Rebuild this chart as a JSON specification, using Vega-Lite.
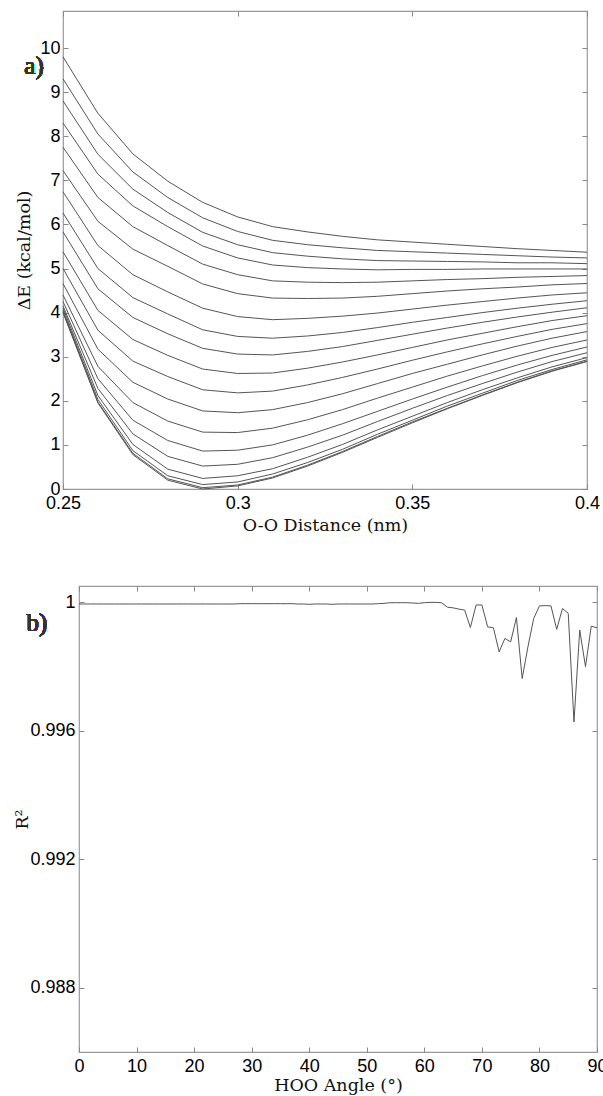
{
  "$schema": "https://vega.github.io/schema/vega-lite/v6.json",
  "padding": {"left": 13, "top": 9, "right": 0, "bottom": 0},
  "bounds": "flush",
  "spacing": 97,
  "config": {
    "view": {"stroke": "#999", "strokeWidth": 1.2},
    "axis": {
      "grid": false, "domain": false, "tickSize": -5, "tickColor": "#888", "tickWidth": 1,
      "labelFont": "Liberation Sans", "labelFontSize": 18, "labelColor": "#000",
      "titleFont": "DejaVu Serif", "titleFontSize": 17.5, "titleFontWeight": "normal", "titleColor": "#111",
      "labelFlush": false, "labelOverlap": false, "labelBound": false
    }
  },
  "datasets": {
    "energy": [
      {"curve":0,"r":0.25,"E":9.8},{"curve":0,"r":0.26,"E":8.52},{"curve":0,"r":0.27,"E":7.6},{"curve":0,"r":0.28,"E":6.98},{"curve":0,"r":0.29,"E":6.5},{"curve":0,"r":0.30,"E":6.17},{"curve":0,"r":0.31,"E":5.95},{"curve":0,"r":0.32,"E":5.83},{"curve":0,"r":0.33,"E":5.73},{"curve":0,"r":0.34,"E":5.65},{"curve":0,"r":0.35,"E":5.6},{"curve":0,"r":0.36,"E":5.55},{"curve":0,"r":0.37,"E":5.5},{"curve":0,"r":0.38,"E":5.45},{"curve":0,"r":0.39,"E":5.41},{"curve":0,"r":0.40,"E":5.37},
      {"curve":1,"r":0.25,"E":9.3},{"curve":1,"r":0.26,"E":8.05},{"curve":1,"r":0.27,"E":7.19},{"curve":1,"r":0.28,"E":6.61},{"curve":1,"r":0.29,"E":6.15},{"curve":1,"r":0.30,"E":5.84},{"curve":1,"r":0.31,"E":5.64},{"curve":1,"r":0.32,"E":5.54},{"curve":1,"r":0.33,"E":5.47},{"curve":1,"r":0.34,"E":5.41},{"curve":1,"r":0.35,"E":5.38},{"curve":1,"r":0.36,"E":5.35},{"curve":1,"r":0.37,"E":5.32},{"curve":1,"r":0.38,"E":5.29},{"curve":1,"r":0.39,"E":5.26},{"curve":1,"r":0.40,"E":5.24},
      {"curve":2,"r":0.25,"E":8.8},{"curve":2,"r":0.26,"E":7.59},{"curve":2,"r":0.27,"E":6.8},{"curve":2,"r":0.28,"E":6.27},{"curve":2,"r":0.29,"E":5.82},{"curve":2,"r":0.30,"E":5.54},{"curve":2,"r":0.31,"E":5.36},{"curve":2,"r":0.32,"E":5.28},{"curve":2,"r":0.33,"E":5.22},{"curve":2,"r":0.34,"E":5.18},{"curve":2,"r":0.35,"E":5.17},{"curve":2,"r":0.36,"E":5.16},{"curve":2,"r":0.37,"E":5.15},{"curve":2,"r":0.38,"E":5.13},{"curve":2,"r":0.39,"E":5.13},{"curve":2,"r":0.40,"E":5.11},
      {"curve":3,"r":0.25,"E":8.3},{"curve":3,"r":0.26,"E":7.14},{"curve":3,"r":0.27,"E":6.42},{"curve":3,"r":0.28,"E":5.95},{"curve":3,"r":0.29,"E":5.51},{"curve":3,"r":0.30,"E":5.24},{"curve":3,"r":0.31,"E":5.08},{"curve":3,"r":0.32,"E":5.02},{"curve":3,"r":0.33,"E":4.99},{"curve":3,"r":0.34,"E":4.97},{"curve":3,"r":0.35,"E":4.98},{"curve":3,"r":0.36,"E":4.98},{"curve":3,"r":0.37,"E":4.99},{"curve":3,"r":0.38,"E":4.99},{"curve":3,"r":0.39,"E":4.99},{"curve":3,"r":0.40,"E":4.99},
      {"curve":4,"r":0.25,"E":7.75},{"curve":4,"r":0.26,"E":6.61},{"curve":4,"r":0.27,"E":5.95},{"curve":4,"r":0.28,"E":5.52},{"curve":4,"r":0.29,"E":5.1},{"curve":4,"r":0.30,"E":4.86},{"curve":4,"r":0.31,"E":4.72},{"curve":4,"r":0.32,"E":4.69},{"curve":4,"r":0.33,"E":4.68},{"curve":4,"r":0.34,"E":4.69},{"curve":4,"r":0.35,"E":4.72},{"curve":4,"r":0.36,"E":4.75},{"curve":4,"r":0.37,"E":4.77},{"curve":4,"r":0.38,"E":4.8},{"curve":4,"r":0.39,"E":4.82},{"curve":4,"r":0.40,"E":4.84},
      {"curve":5,"r":0.25,"E":7.22},{"curve":5,"r":0.26,"E":6.07},{"curve":5,"r":0.27,"E":5.44},{"curve":5,"r":0.28,"E":5.05},{"curve":5,"r":0.29,"E":4.65},{"curve":5,"r":0.30,"E":4.43},{"curve":5,"r":0.31,"E":4.33},{"curve":5,"r":0.32,"E":4.32},{"curve":5,"r":0.33,"E":4.33},{"curve":5,"r":0.34,"E":4.37},{"curve":5,"r":0.35,"E":4.43},{"curve":5,"r":0.36,"E":4.49},{"curve":5,"r":0.37,"E":4.54},{"curve":5,"r":0.38,"E":4.58},{"curve":5,"r":0.39,"E":4.63},{"curve":5,"r":0.40,"E":4.66},
      {"curve":6,"r":0.25,"E":6.74},{"curve":6,"r":0.26,"E":5.52},{"curve":6,"r":0.27,"E":4.86},{"curve":6,"r":0.28,"E":4.47},{"curve":6,"r":0.29,"E":4.1},{"curve":6,"r":0.30,"E":3.91},{"curve":6,"r":0.31,"E":3.84},{"curve":6,"r":0.32,"E":3.87},{"curve":6,"r":0.33,"E":3.92},{"curve":6,"r":0.34,"E":3.99},{"curve":6,"r":0.35,"E":4.08},{"curve":6,"r":0.36,"E":4.17},{"curve":6,"r":0.37,"E":4.25},{"curve":6,"r":0.38,"E":4.33},{"curve":6,"r":0.39,"E":4.4},{"curve":6,"r":0.40,"E":4.45},
      {"curve":7,"r":0.25,"E":6.26},{"curve":7,"r":0.26,"E":5.0},{"curve":7,"r":0.27,"E":4.34},{"curve":7,"r":0.28,"E":3.97},{"curve":7,"r":0.29,"E":3.61},{"curve":7,"r":0.30,"E":3.46},{"curve":7,"r":0.31,"E":3.42},{"curve":7,"r":0.32,"E":3.47},{"curve":7,"r":0.33,"E":3.55},{"curve":7,"r":0.34,"E":3.66},{"curve":7,"r":0.35,"E":3.78},{"curve":7,"r":0.36,"E":3.89},{"curve":7,"r":0.37,"E":4.0},{"curve":7,"r":0.38,"E":4.1},{"curve":7,"r":0.39,"E":4.19},{"curve":7,"r":0.40,"E":4.27},
      {"curve":8,"r":0.25,"E":5.83},{"curve":8,"r":0.26,"E":4.54},{"curve":8,"r":0.27,"E":3.89},{"curve":8,"r":0.28,"E":3.52},{"curve":8,"r":0.29,"E":3.19},{"curve":8,"r":0.30,"E":3.06},{"curve":8,"r":0.31,"E":3.04},{"curve":8,"r":0.32,"E":3.12},{"curve":8,"r":0.33,"E":3.23},{"curve":8,"r":0.34,"E":3.37},{"curve":8,"r":0.35,"E":3.51},{"curve":8,"r":0.36,"E":3.65},{"curve":8,"r":0.37,"E":3.78},{"curve":8,"r":0.38,"E":3.9},{"curve":8,"r":0.39,"E":4.01},{"curve":8,"r":0.40,"E":4.11},
      {"curve":9,"r":0.25,"E":5.38},{"curve":9,"r":0.26,"E":4.05},{"curve":9,"r":0.27,"E":3.39},{"curve":9,"r":0.28,"E":3.03},{"curve":9,"r":0.29,"E":2.72},{"curve":9,"r":0.30,"E":2.62},{"curve":9,"r":0.31,"E":2.63},{"curve":9,"r":0.32,"E":2.74},{"curve":9,"r":0.33,"E":2.88},{"curve":9,"r":0.34,"E":3.04},{"curve":9,"r":0.35,"E":3.21},{"curve":9,"r":0.36,"E":3.38},{"curve":9,"r":0.37,"E":3.53},{"curve":9,"r":0.38,"E":3.68},{"curve":9,"r":0.39,"E":3.82},{"curve":9,"r":0.40,"E":3.93},
      {"curve":10,"r":0.25,"E":5.0},{"curve":10,"r":0.26,"E":3.6},{"curve":10,"r":0.27,"E":2.9},{"curve":10,"r":0.28,"E":2.55},{"curve":10,"r":0.29,"E":2.25},{"curve":10,"r":0.30,"E":2.18},{"curve":10,"r":0.31,"E":2.22},{"curve":10,"r":0.32,"E":2.36},{"curve":10,"r":0.33,"E":2.53},{"curve":10,"r":0.34,"E":2.72},{"curve":10,"r":0.35,"E":2.92},{"curve":10,"r":0.36,"E":3.11},{"curve":10,"r":0.37,"E":3.29},{"curve":10,"r":0.38,"E":3.46},{"curve":10,"r":0.39,"E":3.62},{"curve":10,"r":0.40,"E":3.75},
      {"curve":11,"r":0.25,"E":4.66},{"curve":11,"r":0.26,"E":3.17},{"curve":11,"r":0.27,"E":2.42},{"curve":11,"r":0.28,"E":2.04},{"curve":11,"r":0.29,"E":1.77},{"curve":11,"r":0.30,"E":1.73},{"curve":11,"r":0.31,"E":1.8},{"curve":11,"r":0.32,"E":1.96},{"curve":11,"r":0.33,"E":2.16},{"curve":11,"r":0.34,"E":2.39},{"curve":11,"r":0.35,"E":2.62},{"curve":11,"r":0.36,"E":2.83},{"curve":11,"r":0.37,"E":3.04},{"curve":11,"r":0.38,"E":3.24},{"curve":11,"r":0.39,"E":3.42},{"curve":11,"r":0.40,"E":3.57},
      {"curve":12,"r":0.25,"E":4.4},{"curve":12,"r":0.26,"E":2.78},{"curve":12,"r":0.27,"E":1.96},{"curve":12,"r":0.28,"E":1.54},{"curve":12,"r":0.29,"E":1.29},{"curve":12,"r":0.30,"E":1.28},{"curve":12,"r":0.31,"E":1.38},{"curve":12,"r":0.32,"E":1.57},{"curve":12,"r":0.33,"E":1.8},{"curve":12,"r":0.34,"E":2.06},{"curve":12,"r":0.35,"E":2.31},{"curve":12,"r":0.36,"E":2.56},{"curve":12,"r":0.37,"E":2.79},{"curve":12,"r":0.38,"E":3.01},{"curve":12,"r":0.39,"E":3.21},{"curve":12,"r":0.40,"E":3.38},
      {"curve":13,"r":0.25,"E":4.25},{"curve":13,"r":0.26,"E":2.5},{"curve":13,"r":0.27,"E":1.56},{"curve":13,"r":0.28,"E":1.1},{"curve":13,"r":0.29,"E":0.86},{"curve":13,"r":0.30,"E":0.88},{"curve":13,"r":0.31,"E":1.0},{"curve":13,"r":0.32,"E":1.22},{"curve":13,"r":0.33,"E":1.48},{"curve":13,"r":0.34,"E":1.76},{"curve":13,"r":0.35,"E":2.04},{"curve":13,"r":0.36,"E":2.31},{"curve":13,"r":0.37,"E":2.57},{"curve":13,"r":0.38,"E":2.81},{"curve":13,"r":0.39,"E":3.03},{"curve":13,"r":0.40,"E":3.22},
      {"curve":14,"r":0.25,"E":4.15},{"curve":14,"r":0.26,"E":2.28},{"curve":14,"r":0.27,"E":1.25},{"curve":14,"r":0.28,"E":0.74},{"curve":14,"r":0.29,"E":0.52},{"curve":14,"r":0.30,"E":0.56},{"curve":14,"r":0.31,"E":0.71},{"curve":14,"r":0.32,"E":0.95},{"curve":14,"r":0.33,"E":1.22},{"curve":14,"r":0.34,"E":1.53},{"curve":14,"r":0.35,"E":1.83},{"curve":14,"r":0.36,"E":2.12},{"curve":14,"r":0.37,"E":2.39},{"curve":14,"r":0.38,"E":2.65},{"curve":14,"r":0.39,"E":2.89},{"curve":14,"r":0.40,"E":3.09},
      {"curve":15,"r":0.25,"E":4.1},{"curve":15,"r":0.26,"E":2.12},{"curve":15,"r":0.27,"E":1.01},{"curve":15,"r":0.28,"E":0.45},{"curve":15,"r":0.29,"E":0.24},{"curve":15,"r":0.30,"E":0.3},{"curve":15,"r":0.31,"E":0.46},{"curve":15,"r":0.32,"E":0.72},{"curve":15,"r":0.33,"E":1.01},{"curve":15,"r":0.34,"E":1.34},{"curve":15,"r":0.35,"E":1.65},{"curve":15,"r":0.36,"E":1.96},{"curve":15,"r":0.37,"E":2.25},{"curve":15,"r":0.38,"E":2.52},{"curve":15,"r":0.39,"E":2.77},{"curve":15,"r":0.40,"E":2.98},
      {"curve":16,"r":0.25,"E":4.05},{"curve":16,"r":0.26,"E":2.03},{"curve":16,"r":0.27,"E":0.87},{"curve":16,"r":0.28,"E":0.3},{"curve":16,"r":0.29,"E":0.1},{"curve":16,"r":0.30,"E":0.16},{"curve":16,"r":0.31,"E":0.34},{"curve":16,"r":0.32,"E":0.6},{"curve":16,"r":0.33,"E":0.9},{"curve":16,"r":0.34,"E":1.24},{"curve":16,"r":0.35,"E":1.56},{"curve":16,"r":0.36,"E":1.88},{"curve":16,"r":0.37,"E":2.17},{"curve":16,"r":0.38,"E":2.46},{"curve":16,"r":0.39,"E":2.71},{"curve":16,"r":0.40,"E":2.93},
      {"curve":17,"r":0.25,"E":4.02},{"curve":17,"r":0.26,"E":1.97},{"curve":17,"r":0.27,"E":0.81},{"curve":17,"r":0.28,"E":0.23},{"curve":17,"r":0.29,"E":0.03},{"curve":17,"r":0.30,"E":0.09},{"curve":17,"r":0.31,"E":0.27},{"curve":17,"r":0.32,"E":0.54},{"curve":17,"r":0.33,"E":0.85},{"curve":17,"r":0.34,"E":1.19},{"curve":17,"r":0.35,"E":1.52},{"curve":17,"r":0.36,"E":1.83},{"curve":17,"r":0.37,"E":2.13},{"curve":17,"r":0.38,"E":2.42},{"curve":17,"r":0.39,"E":2.68},{"curve":17,"r":0.40,"E":2.9},
      {"curve":18,"r":0.25,"E":4.0},{"curve":18,"r":0.26,"E":1.95},{"curve":18,"r":0.27,"E":0.78},{"curve":18,"r":0.28,"E":0.2},{"curve":18,"r":0.29,"E":0.0},{"curve":18,"r":0.30,"E":0.07},{"curve":18,"r":0.31,"E":0.25},{"curve":18,"r":0.32,"E":0.52},{"curve":18,"r":0.33,"E":0.83},{"curve":18,"r":0.34,"E":1.17},{"curve":18,"r":0.35,"E":1.5},{"curve":18,"r":0.36,"E":1.82},{"curve":18,"r":0.37,"E":2.12},{"curve":18,"r":0.38,"E":2.41},{"curve":18,"r":0.39,"E":2.67},{"curve":18,"r":0.40,"E":2.89}
    ],
    "fit": [
      {"angle":0,"R2":0.99994},{"angle":1,"R2":0.99994},{"angle":2,"R2":0.99994},{"angle":3,"R2":0.99994},{"angle":4,"R2":0.99994},{"angle":5,"R2":0.99994},{"angle":6,"R2":0.99994},{"angle":7,"R2":0.99994},{"angle":8,"R2":0.99994},{"angle":9,"R2":0.99994},
      {"angle":10,"R2":0.99994},{"angle":11,"R2":0.99994},{"angle":12,"R2":0.99994},{"angle":13,"R2":0.99994},{"angle":14,"R2":0.99994},{"angle":15,"R2":0.99994},{"angle":16,"R2":0.99994},{"angle":17,"R2":0.99994},{"angle":18,"R2":0.99994},{"angle":19,"R2":0.99994},
      {"angle":20,"R2":0.99994},{"angle":21,"R2":0.99994},{"angle":22,"R2":0.99994},{"angle":23,"R2":0.99994},{"angle":24,"R2":0.99994},{"angle":25,"R2":0.99994},{"angle":26,"R2":0.99994},{"angle":27,"R2":0.99994},{"angle":28,"R2":0.99995},{"angle":29,"R2":0.99995},
      {"angle":30,"R2":0.99995},{"angle":31,"R2":0.99995},{"angle":32,"R2":0.99995},{"angle":33,"R2":0.99995},{"angle":34,"R2":0.99995},{"angle":35,"R2":0.99995},{"angle":36,"R2":0.99995},{"angle":37,"R2":0.99995},{"angle":38,"R2":0.99994},{"angle":39,"R2":0.99994},
      {"angle":40,"R2":0.99993},{"angle":41,"R2":0.99994},{"angle":42,"R2":0.99994},{"angle":43,"R2":0.99994},{"angle":44,"R2":0.99993},{"angle":45,"R2":0.99994},{"angle":46,"R2":0.99994},{"angle":47,"R2":0.99994},{"angle":48,"R2":0.99994},{"angle":49,"R2":0.99994},
      {"angle":50,"R2":0.99994},{"angle":51,"R2":0.99994},{"angle":52,"R2":0.99995},{"angle":53,"R2":0.99996},{"angle":54,"R2":0.99998},{"angle":55,"R2":0.99998},{"angle":56,"R2":0.99998},{"angle":57,"R2":0.99998},{"angle":58,"R2":0.99997},{"angle":59,"R2":0.99996},
      {"angle":60,"R2":0.99998},{"angle":61,"R2":0.99999},{"angle":62,"R2":0.99999},{"angle":63,"R2":0.99998},{"angle":64,"R2":0.99984},{"angle":65,"R2":0.99982},{"angle":66,"R2":0.99978},{"angle":67,"R2":0.99975},{"angle":68,"R2":0.99921},{"angle":69,"R2":0.99991},
      {"angle":70,"R2":0.99991},{"angle":71,"R2":0.99923},{"angle":72,"R2":0.9992},{"angle":73,"R2":0.99845},{"angle":74,"R2":0.99887},{"angle":75,"R2":0.99876},{"angle":76,"R2":0.99952},{"angle":77,"R2":0.99762},{"angle":78,"R2":0.99861},{"angle":79,"R2":0.99949},
      {"angle":80,"R2":0.99988},{"angle":81,"R2":0.99989},{"angle":82,"R2":0.99988},{"angle":83,"R2":0.99915},{"angle":84,"R2":0.9998},{"angle":85,"R2":0.99965},{"angle":86,"R2":0.99627},{"angle":87,"R2":0.99913},{"angle":88,"R2":0.99799},{"angle":89,"R2":0.99925},
      {"angle":90,"R2":0.9992}
    ]
  },
  "vconcat": [
    {
      "width": 524,
      "height": 478,
      "data": {"name": "energy"},
      "layer": [
        {
          "mark": {"type": "line", "color": "#555", "strokeWidth": 1},
          "encoding": {
            "x": {"field": "r", "type": "quantitative", "scale": {"domain": [0.25, 0.4], "nice": false, "zero": false},
                  "axis": {"values": [0.25, 0.3, 0.35, 0.4], "format": ".2~f", "title": "O-O Distance (nm)", "labelPadding": 10, "titlePadding": 4}},
            "y": {"field": "E", "type": "quantitative", "scale": {"domain": [0, 10.84], "nice": false},
                  "axis": {"values": [0, 1, 2, 3, 4, 5, 6, 7, 8, 9, 10], "format": "d", "title": "ΔE (kcal/mol)", "labelPadding": 8, "titlePadding": 6}},
            "detail": {"field": "curve"},
            "order": {"field": "r"}
          }
        },
        {
          "mark": {"type": "line", "opacity": 0},
          "encoding": {
            "x": {"field": "r", "type": "quantitative", "scale": {"domain": [0.25, 0.4], "nice": false, "zero": false},
                  "axis": {"orient": "top", "values": [0.25, 0.3, 0.35, 0.4], "labels": false, "title": null}},
            "y": {"field": "E", "type": "quantitative", "scale": {"domain": [0, 10.84], "nice": false},
                  "axis": {"orient": "right", "values": [0, 1, 2, 3, 4, 5, 6, 7, 8, 9, 10], "labels": false, "title": null}},
            "detail": {"field": "curve"}
          }
        },
        {
          "mark": {"type": "text", "font": "Liberation Serif", "fontSize": 25, "align": "center", "baseline": "middle", "color": "#333"},
          "encoding": {
            "x": {"datum": 0.2417, "type": "quantitative", "scale": {"domain": [0.25, 0.4], "nice": false, "zero": false}, "axis": null},
            "y": {"datum": 9.6, "type": "quantitative", "scale": {"domain": [0, 10.84], "nice": false}, "axis": null},
            "text": {"value": "a)"}
          }
        }
      ],
      "resolve": {"axis": {"x": "independent", "y": "independent"}}
    },
    {
      "bounds": "flush",
      "spacing": 0,
      "hconcat": [
        {
          "width": 16,
          "height": 466,
          "view": {"stroke": null},
          "data": {"values": []},
          "mark": "rule",
          "encoding": {}
        },
        {
          "width": 518,
          "height": 466,
          "data": {"name": "fit"},
          "layer": [
            {
              "mark": {"type": "line", "color": "#555", "strokeWidth": 1},
              "encoding": {
                "x": {"field": "angle", "type": "quantitative", "scale": {"domain": [0, 90], "nice": false},
                      "axis": {"values": [0, 10, 20, 30, 40, 50, 60, 70, 80, 90], "title": "HOO Angle (°)", "labelPadding": 10, "titlePadding": 1}},
                "y": {"field": "R2", "type": "quantitative", "scale": {"domain": [0.986, 1.0005], "nice": false, "zero": false},
                      "axis": {"values": [0.988, 0.992, 0.996, 1], "format": ".3~f", "title": "R²", "labelPadding": 9, "titlePadding": -2}}
              }
            },
            {
              "mark": {"type": "line", "opacity": 0},
              "encoding": {
                "x": {"field": "angle", "type": "quantitative", "scale": {"domain": [0, 90], "nice": false},
                      "axis": {"orient": "top", "values": [0, 10, 20, 30, 40, 50, 60, 70, 80, 90], "labels": false, "title": null}},
                "y": {"field": "R2", "type": "quantitative", "scale": {"domain": [0.986, 1.0005], "nice": false, "zero": false},
                      "axis": {"orient": "right", "values": [0.988, 0.992, 0.996, 1], "labels": false, "title": null}}
              }
            },
            {
              "mark": {"type": "text", "font": "Liberation Serif", "fontSize": 25, "align": "center", "baseline": "middle", "color": "#333"},
              "encoding": {
                "x": {"datum": -7.3, "type": "quantitative", "scale": {"domain": [0, 90], "nice": false}, "axis": null},
                "y": {"datum": 0.99935, "type": "quantitative", "scale": {"domain": [0.986, 1.0005], "nice": false, "zero": false}, "axis": null},
                "text": {"value": "b)"}
              }
            }
          ],
          "resolve": {"axis": {"x": "independent", "y": "independent"}}
        }
      ]
    }
  ]
}
